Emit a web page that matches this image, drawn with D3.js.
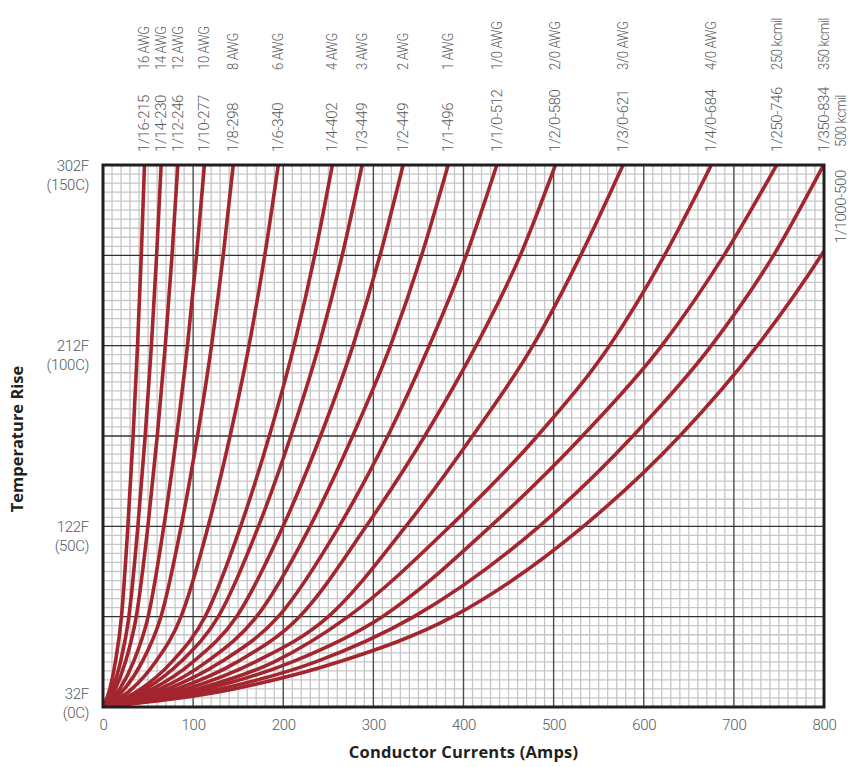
<!DOCTYPE html>
<html><head><meta charset="utf-8">
<script src="https://cdn.jsdelivr.net/npm/d3@7"></script>
<style>
body{margin:0;background:#fff;}
svg{display:block;}
text{font-family:Roboto,"Open Sans",sans-serif;}
</style>
</head><body>
<svg id="chart" width="861" height="767"></svg>
<script>
// ---------- DATA ----------
// temperature rise levels (deg C) at which currents were read
const tempsC = [0, 5, 12.5, 25, 50, 75, 100, 125, 150];
// tick labels
const xTicks = [0, 100, 200, 300, 400, 500, 600, 700, 800];
const yTicks = [0, 50, 100, 150];
const yTickF = ["32F", "122F", "212F", "302F"];
const yTickC = ["(0C)", "(50C)", "(100C)", "(150C)"];
// conductor names and rating labels
const sizeNames = ["16 AWG","14 AWG","12 AWG","10 AWG","8 AWG","6 AWG","4 AWG","3 AWG","2 AWG","1 AWG",
  "1/0 AWG","2/0 AWG","3/0 AWG","4/0 AWG","250 kcmil","350 kcmil","500 kcmil"];
const ratingNames = ["1/16-215","1/14-230","1/12-246","1/10-277","1/8-298","1/6-340","1/4-402","1/3-449","1/2-449","1/1-496",
  "1/1/0-512","1/2/0-580","1/3/0-621","1/4/0-684","1/250-746","1/350-834","1/1000-500"];
// current (amps) reaching each temperature level in tempsC
const awg16    = [0, 7.6, 13.8, 20.5, 27.6, 33.4, 38.3, 42.5, 46.0];
const awg14    = [0, 10.6, 19.4, 28.7, 38.7, 46.8, 53.7, 59.5, 64.5];
const awg12    = [0, 13.7, 24.9, 36.9, 49.8, 60.2, 69.1, 76.6, 83.0];
const awg10    = [0, 18.6, 33.8, 50.1, 67.5, 81.6, 93.7, 103.8, 112.5];
const awg8     = [0, 23.8, 43.4, 64.3, 86.7, 104.8, 120.4, 133.4, 144.5];
const awg6     = [0, 32.1, 58.4, 86.6, 116.7, 141.0, 162.0, 179.5, 194.5];
const awg4     = [0, 42.0, 76.4, 113.3, 152.7, 184.5, 212.0, 234.9, 254.5];
const awg3     = [0, 47.4, 86.3, 127.9, 172.5, 208.4, 239.5, 265.4, 287.5];
const awg2     = [0, 54.9, 99.9, 148.2, 199.8, 241.4, 277.4, 307.4, 333.0];
const awg1     = [0, 63.2, 114.9, 170.4, 229.8, 277.0, 319.0, 353.5, 383.0];
const awg1_0   = [0, 72.1, 131.1, 194.5, 262.0, 316.0, 362.0, 403.0, 437.0];
const awg2_0   = [0, 82.0, 149.0, 218.0, 292.0, 357.0, 414.0, 463.0, 502.0];
const awg3_0   = [0, 93.0, 169.0, 250.0, 336.0, 410.0, 477.0, 530.0, 577.0];
const awg4_0   = [0, 105.0, 190.0, 272.0, 385.0, 482.0, 562.0, 623.0, 675.0];
const kcmil250 = [0, 115.0, 210.0, 310.0, 430.0, 532.0, 620.0, 689.0, 747.5];
const kcmil350 = [0, 130.0, 236.0, 345.0, 484.0, 588.0, 675.0, 744.0, 799.5];
const kcmil500 = [0, 145.0, 262.0, 388.0, 533.0, 640.0, 726.0, 797.0, 857.0];
const seriesValues = [awg16, awg14, awg12, awg10, awg8, awg6, awg4, awg3, awg2, awg1,
  awg1_0, awg2_0, awg3_0, awg4_0, kcmil250, kcmil350, kcmil500];

// ---------- CHART ----------
const svg = d3.select("#chart");
const m = {left: 103, right: 824, top: 165, bottom: 707};
const x = d3.scaleLinear().domain([0, 800]).range([m.left, m.right]);
const y = d3.scaleLinear().domain([0, 150]).range([m.bottom, m.top]);

svg.append("defs").append("clipPath").attr("id", "plotclip")
  .append("rect").attr("x", m.left).attr("y", m.top)
  .attr("width", m.right - m.left).attr("height", m.bottom - m.top);

const grid = svg.append("g");
const minorX = d3.range(0, 801, 10).filter(v => v % 100 !== 0);
const minorY = d3.range(0, 150.01, 2.5).filter(v => v % 25 !== 0);
const majorX = d3.range(100, 800, 100);
const majorY = d3.range(25, 150, 25);

grid.selectAll(".vmin").data(minorX).join("line")
  .attr("x1", d => x(d)).attr("x2", d => x(d)).attr("y1", m.top).attr("y2", m.bottom)
  .attr("stroke", "#c6c6c6").attr("stroke-width", 1.3);
grid.selectAll(".hmin").data(minorY).join("line")
  .attr("y1", d => y(d)).attr("y2", d => y(d)).attr("x1", m.left).attr("x2", m.right)
  .attr("stroke", "#c6c6c6").attr("stroke-width", 1.3);
grid.selectAll(".vmaj").data(majorX).join("line")
  .attr("x1", d => x(d)).attr("x2", d => x(d)).attr("y1", m.top).attr("y2", m.bottom)
  .attr("stroke", "#4d4d4d").attr("stroke-width", 1.4);
grid.selectAll(".hmaj").data(majorY).join("line")
  .attr("y1", d => y(d)).attr("y2", d => y(d)).attr("x1", m.left).attr("x2", m.right)
  .attr("stroke", "#333").attr("stroke-width", 1.4);

// curves
const line = d3.line()
  .x(d => x(d[0])).y(d => y(d[1]))
  .curve(d3.curveMonotoneX);
svg.append("g").attr("clip-path", "url(#plotclip)")
  .selectAll("path").data(seriesValues).join("path")
  .attr("d", vals => line(vals.map((a, i) => [a, tempsC[i]])))
  .attr("fill", "none").attr("stroke", "#a3262e").attr("stroke-width", 3.6)
  .attr("stroke-linecap", "round");

// frame
svg.append("rect").attr("x", m.left).attr("y", m.top)
  .attr("width", m.right - m.left).attr("height", m.bottom - m.top)
  .attr("fill", "none").attr("stroke", "#231f20").attr("stroke-width", 3);

// x axis
const xAxis = svg.append("g").attr("transform", `translate(0,${m.bottom})`)
  .call(d3.axisBottom(x).tickValues(xTicks).tickSize(0).tickPadding(12).tickFormat(d3.format("d")));
xAxis.select(".domain").remove();
xAxis.selectAll("text").attr("font-size", 15).attr("font-weight", 300)
  .attr("fill", "#58595b").attr("letter-spacing", "-0.3px").style("font-family", "Roboto");

// y axis (two-line labels)
const yAxis = svg.append("g").attr("transform", `translate(${m.left},0)`)
  .call(d3.axisLeft(y).tickValues(yTicks).tickSize(0).tickPadding(14).tickFormat(""));
yAxis.select(".domain").remove();
yAxis.selectAll(".tick text").each(function(d) {
  const i = yTicks.indexOf(d);
  const t = d3.select(this).attr("dy", null).attr("font-size", 15).attr("font-weight", 300)
    .attr("fill", "#58595b").attr("letter-spacing", "-0.3px").style("font-family", "Roboto");
  const off = d === 0 ? -9 : 5;
  t.append("tspan").attr("x", -14).attr("y", off).text(yTickF[i]);
  t.append("tspan").attr("x", -14).attr("y", off + 19).text(yTickC[i]);
});

// axis titles
svg.append("text").attr("transform", `translate(23,${(m.top + m.bottom) / 2 + 3}) rotate(-90)`)
  .attr("text-anchor", "middle").attr("font-size", 16.5).attr("font-weight", 700)
  .attr("fill", "#231f20").style("font-family", "'Open Sans'").text("Temperature Rise");
svg.append("text").attr("x", (m.left + m.right) / 2).attr("y", 758)
  .attr("text-anchor", "middle").attr("font-size", 16.5).attr("font-weight", 700)
  .attr("letter-spacing", "0.2px")
  .attr("fill", "#231f20").style("font-family", "'Open Sans'").text("Conductor Currents (Amps)");

// conductor labels at top
const lab = svg.append("g").attr("font-size", 15).attr("font-weight", 300)
  .attr("fill", "#58595b").attr("letter-spacing", "-0.4px").style("font-family", "Roboto");
seriesValues.forEach((vals, i) => {
  const top = vals[vals.length - 1];
  if (top <= 800) {
    const lx = x(top) + 5;
    lab.append("text").attr("transform", `translate(${lx},152) rotate(-90)`).text(ratingNames[i]);
    lab.append("text").attr("transform", `translate(${lx},70) rotate(-90) scale(0.87,1)`).text(sizeNames[i]);
  } else {
    // curve leaves through the right edge
    const lx = m.right + 22;
    lab.append("text").attr("transform", `translate(${lx},243) rotate(-90)`).text(ratingNames[i]);
    lab.append("text").attr("transform", `translate(${lx},147) rotate(-90) scale(0.87,1)`).text(sizeNames[i]);
  }
});
</script>
</body></html>
